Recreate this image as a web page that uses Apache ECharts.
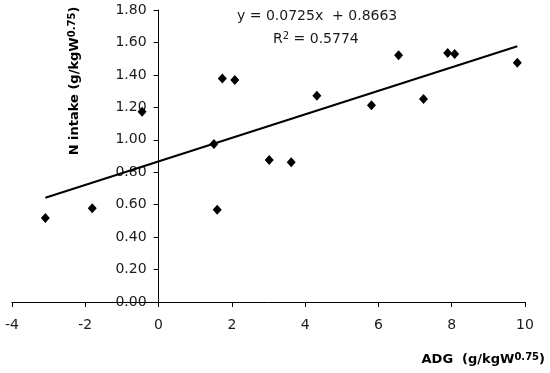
<!DOCTYPE html>
<html><head><meta charset="utf-8">
<script src="https://cdn.jsdelivr.net/npm/echarts@6/dist/echarts.min.js"></script>
<style>html,body{margin:0;padding:0;background:#fff}#c{width:550px;height:373px}</style>
</head><body><div id="c"></div>
<script>
var adg = [-3.09, -1.81, -0.45, 1.51, 1.60, 1.74, 2.08, 3.02, 3.62, 4.32, 5.81, 6.55, 7.23, 7.89, 8.08, 9.79];
var nIntake = [0.518, 0.578, 1.173, 0.974, 0.569, 1.377, 1.369, 0.875, 0.861, 1.272, 1.213, 1.521, 1.252, 1.535, 1.529, 1.475];
var slope = 0.0725, intercept = 0.8663;
var trendX = [-3.09, 9.79];
var eqText = 'y = 0.0725x  + 0.8663';
var r2Text = '0.5774';

var points = adg.map(function (x, i) { return [x, nIntake[i]]; });
var trend = trendX.map(function (x) { return [x, slope * x + intercept]; });
var FONT = 'DejaVu Sans';
var GL = 12, GR = 25, XMIN = -4, XMAX = 10;
var zeroOffset = (550 - GL - GR) * (0 - XMIN) / (XMAX - XMIN);
function supRich(size, bold, color) {
  return {
    a: { fontFamily: FONT, fontSize: size, fontWeight: bold ? 'bold' : 'normal', fill: color, lineHeight: 16 },
    s: { fontFamily: FONT, fontSize: 10, fontWeight: bold ? 'bold' : 'normal', fill: color, lineHeight: 10, verticalAlign: 'top' }
  };
}
var chart = echarts.init(document.getElementById('c'));
chart.setOption({
  animation: false,
  backgroundColor: '#fff',
  grid: { left: GL, right: GR, top: 10, bottom: 71, containLabel: false, outerBoundsMode: 'none' },
  xAxis: {
    type: 'value', min: XMIN, max: XMAX, interval: 2,
    splitLine: { show: false },
    axisLine: { onZero: false, lineStyle: { color: '#000', width: 1 } },
    axisTick: { show: true, inside: false, length: 5, lineStyle: { color: '#000' } },
    axisLabel: { color: '#1a1a1a', fontFamily: FONT, fontSize: 14, margin: 16 }
  },
  yAxis: {
    type: 'value', min: 0, max: 1.8, interval: 0.2,
    position: 'left', offset: -zeroOffset,
    splitLine: { show: false },
    axisLine: { onZero: false, lineStyle: { color: '#000', width: 1 } },
    axisTick: { show: true, inside: false, length: 5, lineStyle: { color: '#000' } },
    axisLabel: { color: '#1a1a1a', fontFamily: FONT, fontSize: 14, margin: 12,
      formatter: function (v) { return v.toFixed(2); } }
  },
  series: [
    { type: 'scatter', data: points, symbol: 'diamond', symbolSize: [9, 10],
      itemStyle: { color: '#000', opacity: 1 }, z: 3 },
    { type: 'line', data: trend, showSymbol: false, symbol: 'none',
      lineStyle: { color: '#000', width: 2 }, z: 2 }
  ],
  graphic: [
    { type: 'text', left: 237, top: 9, style: { text: eqText, fill: '#1a1a1a', font: '14px "DejaVu Sans"' } },
    { type: 'text', left: 273, top: 31, style: {
      text: '{a|R}{s|2}{a| = ' + r2Text + '}', rich: supRich(14, false, '#1a1a1a') } },
    { type: 'text', right: 5, top: 352, style: {
      text: '{a|ADG  (g/kgW}{s|0.75}{a|)}', rich: supRich(13, true, '#000') } },
    { type: 'text', x: 75, y: 81, rotation: Math.PI / 2, style: {
      text: '{a|N intake (g/kgW}{s|0.75}{a|)}', align: 'center', verticalAlign: 'middle',
      rich: supRich(13, true, '#000') } }
  ]
});
</script></body></html>
